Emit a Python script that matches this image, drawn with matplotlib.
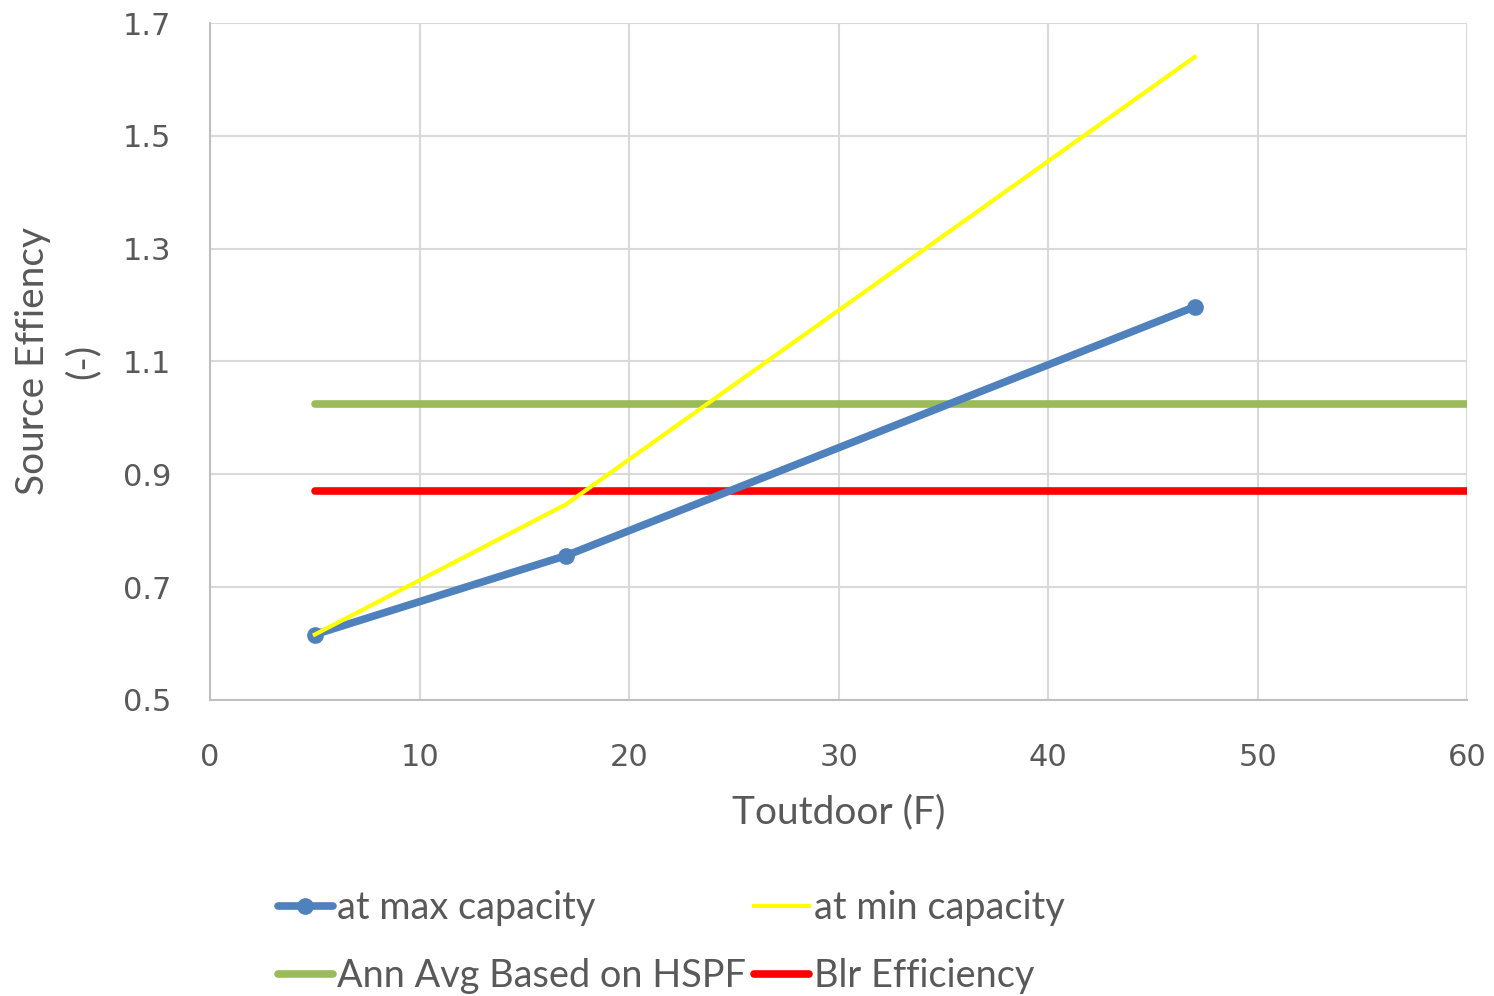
import numpy as np
import matplotlib
matplotlib.use("Agg")
import matplotlib.pyplot as plt

# data
t_max = [5, 17, 47]
eff_max = [0.616, 0.756, 1.197]
t_min = [5, 17, 47]
eff_min = [0.616, 0.847, 1.640]
t_flat = [5, 60]
hspf = [1.025, 1.025]
blr = [0.871, 0.871]

plt.rcParams['font.family'] = ['Lato', 'DejaVu Sans']
txt = '#595959'

fig = plt.figure(figsize=(14.94, 9.96), dpi=100)
ax = fig.add_axes([0.1406, 0.2972, 0.8414, 0.6797])

l1, = ax.plot(t_max, eff_max, color='#4F81BD', lw=5.5, marker='o', ms=11,
              solid_capstyle='round', label='at max capacity', zorder=4)
l2, = ax.plot(t_min, eff_min, color='#FFFF00', lw=3, label='at min capacity', zorder=5)
l3, = ax.plot(t_flat, hspf, color='#9BBB59', lw=5.5, solid_capstyle='round',
              label='Ann Avg Based on HSPF', zorder=3)
l4, = ax.plot(t_flat, blr, color='#FF0000', lw=5.5, solid_capstyle='round',
              label='Blr Efficiency', zorder=3)

ax.set_xlim(0, 60)
ax.set_ylim(0.5, 1.7)
ax.set_xticks(np.arange(0, 61, 10))
ax.set_yticks(np.arange(0.5, 1.71, 0.2))
ax.set_yticklabels(['0.5', '0.7', '0.9', '1.1', '1.3', '1.5', '1.7'])
ax.grid(True, color='#D9D9D9', lw=1.5)
ax.set_axisbelow(True)
for s in ['top', 'right']:
    ax.spines[s].set_visible(False)
for s in ['left', 'bottom']:
    ax.spines[s].set_color('#BFBFBF')
    ax.spines[s].set_linewidth(1.5)
ax.tick_params(length=0, colors=txt)
ax.tick_params(axis='x', pad=31)
ax.tick_params(axis='y', pad=28)
for lab in ax.get_xticklabels() + ax.get_yticklabels():
    lab.set_family('DejaVu Sans')
    lab.set_fontsize(22)

ax.set_xlabel('Toutdoor (F)', fontsize=28, color=txt, labelpad=16)
ax.set_ylabel('Source Effiency\n(-)', fontsize=28, color=txt, labelpad=16,
              linespacing=1.45)

leg = fig.legend([l1, l3, l2, l4], [l.get_label() for l in [l1, l3, l2, l4]],
                 loc='upper left', bbox_to_anchor=(0.186, 0.106), ncol=2,
                 frameon=False, fontsize=27.3, handlelength=1.45,
                 handletextpad=0.12, columnspacing=0.2, labelspacing=0.84,
                 borderpad=0, borderaxespad=0)
for t in leg.get_texts():
    t.set_color(txt)

fig.savefig('out.png', dpi=100)
